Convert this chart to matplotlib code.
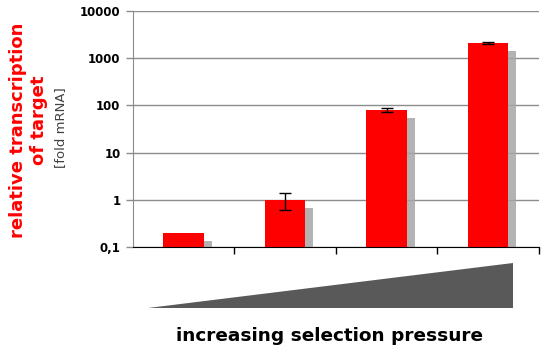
import numpy as np
import matplotlib
matplotlib.use("Agg")
import matplotlib.pyplot as plt
import matplotlib.patheffects as pe
from matplotlib.patches import Polygon

# valores
grupos = ["1", "2", "3", "4"]
valores = [0.2, 1.0, 80, 2100]
erros = [0.0, 0.4, 6, 80]
ticks_y = [0.1, 1, 10, 100, 1000, 10000]
rotulos_y = ["0,1", "1", "10", "100", "1000", "10000"]

fig = plt.figure(figsize=(5.44, 3.52), dpi=100)
ax = fig.add_axes([0.2445, 0.2983, 0.746, 0.6705])

x = np.arange(len(grupos))
sombra = [pe.SimplePatchShadow(offset=(5.5, -6), shadow_rgbFace="#a6a6a6", alpha=0.85), pe.Normal()]
barras = ax.bar(x, valores, width=0.4, color="#ff0000", zorder=3)
for b in barras:
    b.set_path_effects(sombra)
ax.errorbar(x[1:], valores[1:], yerr=erros[1:], fmt="none", ecolor="black",
            elinewidth=1, capsize=4, capthick=1, zorder=4)

ax.set_yscale("log")
ax.set_ylim(0.1, 10000)
ax.set_xlim(-0.5, 3.5)
ax.set_yticks(ticks_y)
ax.set_yticklabels(rotulos_y, fontsize=8.5, fontweight="bold")
ax.yaxis.set_minor_locator(matplotlib.ticker.NullLocator())
ax.grid(axis="y", color="#8c8c8c", linewidth=1, zorder=0)

ax.set_xticks([0.5, 1.5, 2.5, 3.5])
ax.set_xticklabels([])
ax.tick_params(axis="x", length=5, width=1, color="black")
ax.tick_params(axis="y", length=5, width=1, color="#8c8c8c", pad=4)
for s in ["top", "right"]:
    ax.spines[s].set_visible(False)
ax.spines["left"].set_color("#8c8c8c")
ax.spines["bottom"].set_color("black")
ax.spines["bottom"].set_zorder(5)

# rótulos do eixo y
fig.text(18 / 544, 1 - 130 / 352, "relative transcription", rotation=90, color="#ff0000",
         fontsize=13, fontweight="bold", ha="center", va="center")
fig.text(39 / 544, 1 - 120 / 352, "of target", rotation=90, color="#ff0000",
         fontsize=13, fontweight="bold", ha="center", va="center")
fig.text(61 / 544, 1 - 128 / 352, "[fold mRNA]", rotation=90, color="#404040",
         fontsize=9.5, ha="center", va="center")

# triângulo de pressão crescente
tri = Polygon([[148 / 544, 1 - 308 / 352], [513 / 544, 1 - 308 / 352], [513 / 544, 1 - 263 / 352]],
              closed=True, facecolor="#595959", edgecolor="none", transform=fig.transFigure)
fig.patches.append(tri)

fig.text(329 / 544, 1 - 336 / 352, "increasing selection pressure", fontsize=13.3,
         fontweight="bold", ha="center", va="center")

fig.savefig("out.png", dpi=100)
